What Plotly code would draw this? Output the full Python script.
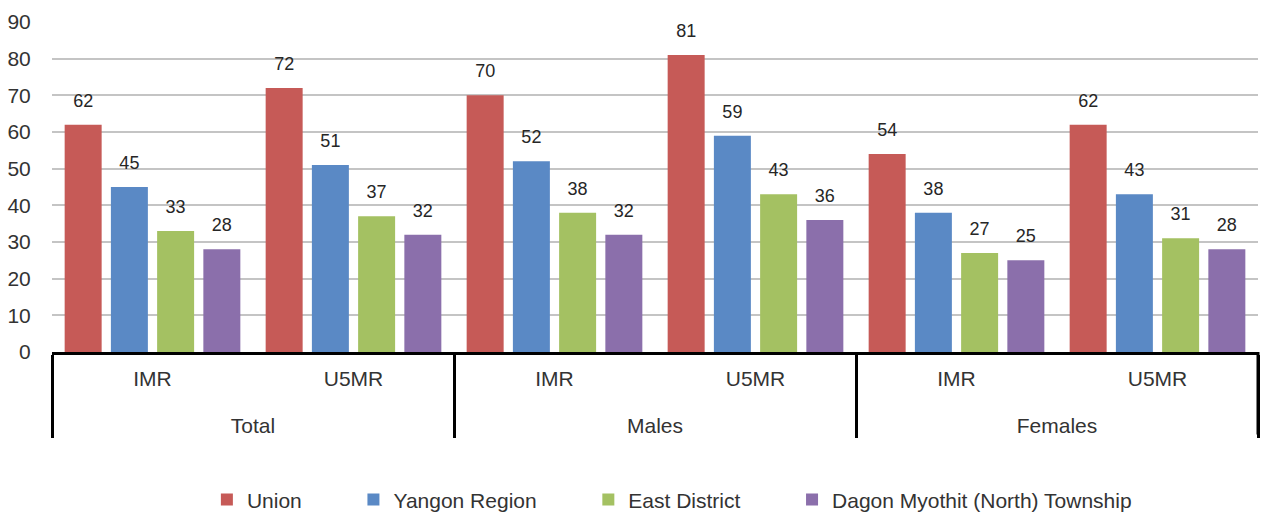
import plotly.graph_objects as go

groups = ["Total", "Total", "Males", "Males", "Females", "Females"]
measures = ["IMR", "U5MR", "IMR", "U5MR", "IMR", "U5MR"]
series_names = ["Union", "Yangon Region", "East District", "Dagon Myothit (North) Township"]
union = [62, 72, 70, 81, 54, 62]
yangon = [45, 51, 52, 59, 38, 43]
east = [33, 37, 38, 43, 27, 31]
dagon = [28, 32, 32, 36, 25, 28]
colors = ["#C65A57", "#5A89C5", "#A4C162", "#8B6FAB"]

values = [union, yangon, east, dagon]
font = "Liberation Sans, Arial, sans-serif"

# outer group labels get a leading blank line to sit lower, as in the reference
outer = ["<br>" + g for g in groups]
pad = "\u00a0" * 8

fig = go.Figure()
for i, (name, vals, col) in enumerate(zip(series_names, values, colors)):
    label = name + (pad if i < len(series_names) - 1 else "")
    fig.add_trace(go.Bar(
        x=[outer, measures], y=vals, name=label,
        marker=dict(color=col, line=dict(width=0)),
        text=["<span style='font-size:18px'>%d</span><br> " % v for v in vals],
        textposition="outside", constraintext="none",
        textfont=dict(family=font, size=10, color="#262626"),
        cliponaxis=False,
    ))

fig.add_shape(type="line", xref="paper", yref="paper", x0=1, x1=1, y0=0, y1=-0.25,
              line=dict(color="black", width=3))

fig.update_layout(
    width=1264, height=515,
    margin=dict(l=52, r=6, t=22, b=163, autoexpand=False),
    paper_bgcolor="white", plot_bgcolor="white",
    barmode="group", bargap=0.08, bargroupgap=0.2,
    font=dict(family=font, size=21, color="#333"),
    uniformtext=dict(minsize=10, mode="show"),
    legend=dict(orientation="h", x=0.514, xanchor="center", y=-0.448, yanchor="middle",
                font=dict(size=21, color="#333"), itemwidth=30,
                traceorder="normal"),
    yaxis=dict(range=[0, 90], dtick=10, showgrid=True, gridcolor="#C4C4C4", gridwidth=2,
               zeroline=False, tickfont=dict(size=21, color="#333"),
               ticks="outside", ticklen=16, tickcolor="rgba(0,0,0,0)",
               showline=False, automargin=False),
    xaxis=dict(type="multicategory", showline=True, linecolor="black", linewidth=3,
               showdividers=True, dividercolor="black", dividerwidth=3,
               tickfont=dict(size=21, color="#333"), automargin=False,
               ticks="", ticklabelstandoff=6),
)

fig.write_html("out.html", config={"displayModeBar": False},
               post_script="document.body.style.margin='0px';document.body.style.overflow='hidden';")
